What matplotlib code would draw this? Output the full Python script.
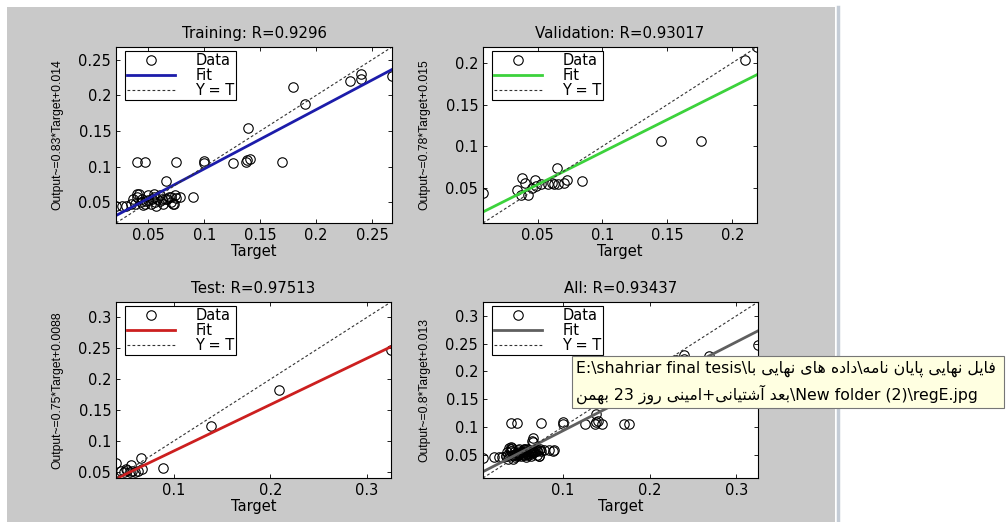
import re
import matplotlib.pyplot as plt
from matplotlib.patches import Rectangle
from matplotlib.lines import Line2D
from matplotlib.ticker import FuncFormatter

# targets / outputs
train_t = [0.268, 0.240, 0.240, 0.230, 0.179, 0.190, 0.139, 0.138, 0.141, 0.137, 0.170, 0.126,
           0.100, 0.100, 0.075, 0.047, 0.040, 0.066,
           0.021, 0.026, 0.030, 0.034, 0.036, 0.040, 0.042, 0.040, 0.043, 0.045,
           0.047, 0.048, 0.050, 0.052, 0.053, 0.055, 0.056, 0.057, 0.058, 0.060,
           0.062, 0.063, 0.065, 0.067, 0.068, 0.070, 0.072, 0.074, 0.075, 0.078,
           0.090, 0.044, 0.038, 0.060, 0.050, 0.055, 0.070, 0.073]
train_y = [0.227, 0.230, 0.223, 0.220, 0.212, 0.188, 0.155, 0.109, 0.111, 0.106, 0.106, 0.105,
           0.108, 0.105, 0.107, 0.107, 0.107, 0.080,
           0.045, 0.045, 0.045, 0.047, 0.054, 0.061, 0.062, 0.057, 0.050, 0.046,
           0.048, 0.052, 0.060, 0.047, 0.055, 0.058, 0.050, 0.045, 0.055, 0.052,
           0.055, 0.048, 0.055, 0.055, 0.057, 0.050, 0.047, 0.060, 0.056, 0.058,
           0.058, 0.055, 0.048, 0.060, 0.053, 0.061, 0.058, 0.047]

val_t = [0.219, 0.210, 0.176, 0.145, 0.065, 0.008, 0.038, 0.040, 0.034, 0.037, 0.043,
         0.048, 0.046, 0.049, 0.053, 0.058, 0.061, 0.063, 0.066, 0.070, 0.073, 0.084]
val_y = [0.219, 0.204, 0.106, 0.106, 0.074, 0.044, 0.062, 0.056, 0.047, 0.042, 0.042,
         0.059, 0.050, 0.052, 0.055, 0.055, 0.056, 0.055, 0.055, 0.056, 0.059, 0.058]

test_t = [0.325, 0.209, 0.138, 0.089, 0.066, 0.056, 0.040, 0.045,
          0.048, 0.051, 0.054, 0.057, 0.060, 0.063, 0.067, 0.050]
test_y = [0.248, 0.182, 0.124, 0.057, 0.073, 0.061, 0.064, 0.052,
          0.050, 0.053, 0.050, 0.051, 0.050, 0.052, 0.054, 0.055]

all_t = train_t + val_t + test_t
all_y = train_y + val_y + test_y

titles = ["Training: R=0.9296", "Validation: R=0.93017", "Test: R=0.97513", "All: R=0.93437"]
slopes = [0.83, 0.78, 0.75, 0.8]
intercepts = [0.014, 0.015, 0.0088, 0.013]
ylabels = ["Output~=0.83*Target+0.014", "Output~=0.78*Target+0.015",
           "Output~=0.75*Target+0.0088", "Output~=0.8*Target+0.013"]
xticks = [[0.05, 0.1, 0.15, 0.2, 0.25], [0.05, 0.1, 0.15, 0.2], [0.1, 0.2, 0.3], [0.1, 0.2, 0.3]]
yticks = [[0.05, 0.1, 0.15, 0.2, 0.25], [0.05, 0.1, 0.15, 0.2],
          [0.05, 0.1, 0.15, 0.2, 0.25, 0.3], [0.05, 0.1, 0.15, 0.2, 0.25, 0.3]]
colors = ['#1c1caa', '#3cd23c', '#cc1f1f', '#5f5f5f']

path_line1 = "E:\\shahriar final tesis\\"
path_fa1 = "فایل نهایی پایان نامه\\داده های نهایی با"
path_fa2 = "بعد آشتیانی+امینی روز 23 بهمن"
path_line2 = "\\New folder (2)\\regE.jpg"

# minimal persian shaping (matplotlib has no bidi / joining)
FORMS = {
    'ا': ('\uFE8D', '\uFE8E', None, None), 'آ': ('\uFE81', '\uFE82', None, None),
    'ب': ('\uFE8F', '\uFE90', '\uFE91', '\uFE92'), 'پ': ('\uFB56', '\uFB57', '\uFB58', '\uFB59'),
    'ت': ('\uFE95', '\uFE96', '\uFE97', '\uFE98'), 'د': ('\uFEA9', '\uFEAA', None, None),
    'ر': ('\uFEAD', '\uFEAE', None, None), 'ز': ('\uFEAF', '\uFEB0', None, None),
    'ش': ('\uFEB5', '\uFEB6', '\uFEB7', '\uFEB8'), 'ع': ('\uFEC9', '\uFECA', '\uFECB', '\uFECC'),
    'ف': ('\uFED1', '\uFED2', '\uFED3', '\uFED4'), 'ل': ('\uFEDD', '\uFEDE', '\uFEDF', '\uFEE0'),
    'م': ('\uFEE1', '\uFEE2', '\uFEE3', '\uFEE4'), 'ن': ('\uFEE5', '\uFEE6', '\uFEE7', '\uFEE8'),
    'ه': ('\uFEE9', '\uFEEA', '\uFEEB', '\uFEEC'), 'و': ('\uFEED', '\uFEEE', None, None),
    'ی': ('\uFBFC', '\uFBFD', '\uFBFE', '\uFBFF'),
}


def shape(word):
    out = []
    for i, ch in enumerate(word):
        prev_joins = i > 0 and FORMS[word[i - 1]][2] is not None
        next_joins = i < len(word) - 1 and FORMS[ch][2] is not None
        iso, fin, ini, med = FORMS[ch]
        if prev_joins and next_joins:
            out.append(med)
        elif prev_joins:
            out.append(fin)
        elif next_joins:
            out.append(ini)
        else:
            out.append(iso)
    return ''.join(out)


def rtl(text):
    tokens = re.findall(r'[\u0600-\u06FF]+|\d+|.', text)
    vis = []
    for tok in reversed(tokens):
        if re.match(r'[\u0600-\u06FF]', tok):
            vis.append(shape(tok)[::-1])
        else:
            vis.append(tok)
    return ''.join(vis)


plt.rcParams['font.family'] = ['DejaVu Sans']

fig = plt.figure(figsize=(10.08, 5.22), dpi=100)
fig.patch.set_facecolor('white')
W, H = 1008.0, 522.0

# matlab figure window background
fig.add_artist(Rectangle((7 / W, 0), 828 / W, 515 / H, transform=fig.transFigure,
                         facecolor='#c9c9c9', edgecolor='none', zorder=-10))
fig.add_artist(Line2D([838 / W, 838 / W], [0, 515 / H], transform=fig.transFigure,
                      color='#c4ccd6', lw=2.5, zorder=-9))

rects = [(116, 47, 276, 176), (483, 47, 274, 176), (116, 302, 275, 176), (483, 302, 275, 176)]
data = [(train_t, train_y), (val_t, val_y), (test_t, test_y), (all_t, all_y)]

for k in range(4):
    x0, y0, w, h = rects[k]
    ax = fig.add_axes([x0 / W, 1 - (y0 + h) / H, w / W, h / H])
    t, y = data[k]
    lo = min(min(t), min(y))
    hi = max(max(t), max(y))

    hd, = ax.plot(t, y, 'o', ms=6.8, mfc='none', mec='k', mew=0.8, label='Data')
    hf, = ax.plot([lo, hi], [slopes[k] * lo + intercepts[k], slopes[k] * hi + intercepts[k]],
                  color=colors[k], lw=2, label='Fit')
    hy, = ax.plot([lo, hi], [lo, hi], color='#333333', lw=0.8, ls=(0, (2.5, 2)), label='Y = T')

    ax.set_xlim(lo, hi)
    ax.set_ylim(lo, hi)
    ax.set_xticks(xticks[k])
    ax.set_yticks(yticks[k])
    fmt = FuncFormatter(lambda v, p: f"{v:g}")
    ax.xaxis.set_major_formatter(fmt)
    ax.yaxis.set_major_formatter(fmt)
    ax.tick_params(direction='in', length=3, width=0.6, top=True, right=True,
                   labelsize=10.5, pad=3.5)
    for s in ax.spines.values():
        s.set_linewidth(0.8)

    ax.set_title(titles[k], fontsize=10.8, pad=6.5)
    ax.set_xlabel('Target', fontsize=10.5, labelpad=1)
    ax.set_ylabel(ylabels[k], fontsize=8.7, family='Liberation Sans', labelpad=11)

    leg = ax.legend(handles=[hd, hf, hy], loc='upper left',
                    bbox_to_anchor=(9 / w, 1 - 4 / h), borderaxespad=0, numpoints=1,
                    fontsize=10.5, fancybox=False, framealpha=1, edgecolor='k',
                    borderpad=0.12, handlelength=3.3, handletextpad=1.4, labelspacing=0.0)
    leg.get_frame().set_linewidth(0.8)

# explorer tooltip over the bottom-right panel
fig.add_artist(Rectangle((572 / W, 1 - 408 / H), 432 / W, 52 / H, transform=fig.transFigure,
                         facecolor='#ffffe1', edgecolor='#767676', lw=0.8, zorder=10))
fig.text(576 / W, 1 - 369 / H, path_line1 + rtl(path_fa1), fontsize=11.3, va='center',
         ha='left', zorder=11)
fig.text(576 / W, 1 - 394 / H, rtl(path_fa2) + path_line2, fontsize=11.3, va='center',
         ha='left', zorder=11)

fig.savefig('out.png', dpi=100)
